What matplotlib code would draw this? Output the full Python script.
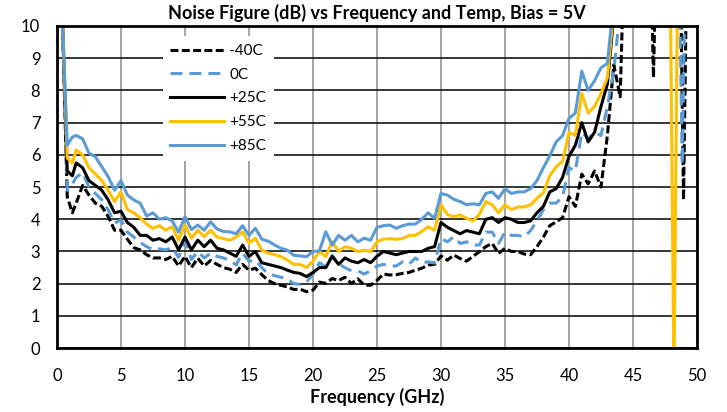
import numpy as np
import matplotlib
matplotlib.use("Agg")
import matplotlib.pyplot as plt

plt.rcParams['font.family'] = ['Lato', 'DejaVu Sans']

# sample frequencies (GHz)
freq = [0.4, 0.8, 1.2] + list(np.arange(1.5, 44.01, 0.5))

nf_m40 = [10.5, 4.7, 4.2, 4.5, 5.05, 4.75, 4.5, 4.4, 4.08, 3.66, 3.66, 3.38, 3.12, 3.05,
          2.9, 2.8, 2.8, 2.75, 2.85, 2.55, 2.85, 2.5, 2.79, 2.55, 2.72, 2.6, 2.5, 2.45,
          2.35, 2.6, 2.42, 2.48, 2.28, 2.1, 2.0, 1.95, 1.9, 1.82, 1.83, 1.75, 1.8, 2.05,
          2.01, 2.16, 2.1, 2.2, 2.01, 2.15, 1.96, 1.95, 2.1, 2.3, 2.27, 2.28, 2.32, 2.35,
          2.42, 2.48, 2.58, 2.6, 2.86, 2.73, 2.89, 2.78, 2.7, 2.85, 2.99, 3.15, 3.25, 2.94,
          3.1, 3.0, 3.0, 2.92, 2.9, 3.15, 3.45, 3.8, 3.92, 4.05, 4.7, 4.4, 5.4, 5.1, 5.5,
          5.0, 6.6, 8.8, 7.8]
nf_0 = [10.5, 4.9, 5.1, 5.3, 5.45, 5.0, 4.8, 4.6, 4.29, 3.88, 3.98, 3.6, 3.45, 3.28,
        3.15, 3.06, 3.08, 3.05, 3.12, 2.82, 3.3, 2.75, 3.0, 2.8, 2.95, 2.85, 2.8, 2.73,
        2.58, 2.95, 2.7, 2.73, 2.5, 2.3, 2.25, 2.2, 2.15, 2.0, 1.98, 2.05, 2.3, 2.65,
        2.52, 2.88, 2.62, 2.5, 2.4, 2.4, 2.3, 2.4, 2.55, 2.6, 2.55, 2.55, 2.68, 2.6,
        2.8, 2.65, 2.68, 2.64, 3.4, 3.3, 3.46, 3.25, 3.3, 3.2, 3.2, 3.6, 3.6, 3.25,
        3.6, 3.5, 3.5, 3.45, 3.65, 3.95, 4.3, 4.5, 4.5, 4.7, 5.6, 5.5, 6.7, 6.5, 6.7,
        6.6, 7.5, 8.6, 10.5]
nf_25 = [10.5, 5.5, 5.35, 5.75, 5.6, 5.2, 5.05, 4.9, 4.6, 4.2, 4.25, 3.9, 3.75, 3.5,
         3.5, 3.35, 3.4, 3.3, 3.45, 3.05, 3.45, 3.05, 3.35, 3.15, 3.35, 3.1, 3.05, 2.95,
         2.85, 3.2, 2.85, 3.0, 2.65, 2.6, 2.55, 2.5, 2.42, 2.35, 2.32, 2.22, 2.35, 2.5,
         2.5, 2.85, 2.6, 2.8, 2.7, 2.65, 2.75, 2.65, 2.85, 3.0, 2.95, 2.9, 2.95, 3.0,
         3.0, 3.0, 3.1, 3.15, 3.9, 3.75, 3.65, 3.55, 3.65, 3.6, 3.55, 4.0, 4.05, 3.9,
         4.05, 4.0, 3.9, 3.9, 3.95, 4.2, 4.4, 4.85, 4.95, 5.3, 5.95, 6.3, 7.0, 6.4, 6.7,
         7.5, 8.2, 10.3, 12.0]
nf_55 = [10.5, 5.9, 5.75, 6.15, 6.0, 5.6, 5.4, 5.2, 4.9, 4.55, 4.85, 4.3, 4.2, 4.05,
         3.85, 3.72, 3.8, 3.66, 3.77, 3.35, 3.82, 3.41, 3.66, 3.46, 3.66, 3.45, 3.4, 3.35,
         3.45, 3.61, 3.25, 3.41, 3.04, 2.95, 2.9, 2.84, 2.73, 2.6, 2.6, 2.5, 2.7, 3.0,
         2.84, 3.3, 3.0, 3.15, 3.1, 3.0, 3.04, 3.0, 3.3, 3.38, 3.4, 3.38, 3.4, 3.5,
         3.5, 3.62, 3.77, 3.66, 4.45, 4.15, 4.08, 4.13, 4.03, 3.95, 4.15, 4.55, 4.45, 4.2,
         4.45, 4.3, 4.38, 4.38, 4.45, 4.65, 4.82, 5.35, 5.63, 5.8, 6.7, 6.6, 7.9, 7.3, 7.5,
         7.9, 8.4, 10.5, 12.0]
nf_85 = [10.5, 6.3, 6.55, 6.6, 6.5, 6.05, 5.94, 5.63, 5.32, 4.9, 5.2, 4.75, 4.6, 4.5,
         4.1, 4.2, 4.0, 4.05, 3.95, 3.6, 4.08, 3.68, 3.82, 3.66, 3.92, 3.7, 3.62, 3.61,
         3.55, 3.8, 3.5, 3.72, 3.38, 3.32, 3.2, 3.1, 3.04, 2.88, 2.86, 2.84, 3.0, 3.02,
         3.61, 3.2, 3.5, 3.35, 3.5, 3.3, 3.41, 3.35, 3.75, 3.8, 3.82, 3.72, 3.8, 3.85,
         3.85, 4.0, 4.2, 4.03, 4.8, 4.75, 4.62, 4.55, 4.45, 4.48, 4.45, 4.8, 4.85, 4.65,
         4.95, 4.8, 4.85, 4.85, 4.95, 5.2, 5.6, 5.97, 6.4, 6.6, 7.13, 7.3, 8.6, 8.0, 8.3,
         8.7, 8.84, 10.8, 12.0]

# high-frequency tails (mostly off scale)
tail_m40_f = [44.3, 46.4, 46.6, 46.8, 48.7, 48.95, 49.2]
tail_m40_v = [12, 12, 8.4, 12, 12, 4.6, 12]
tail_0_f = [44.3, 48.6, 48.85, 49.1]
tail_0_v = [12, 12, 5.7, 12]
tail_55_f = [44.5, 47.9, 48.2, 48.5]
tail_55_v = [12, 12, -1, 12]

blue = '#5B9BD5'
gold = '#FFC000'
lw = 2.2

fig = plt.figure(figsize=(7.27, 4.12), dpi=100)
ax = fig.add_axes([0.0784, 0.155, 0.8803, 0.782])

ax.plot(freq + tail_m40_f, nf_m40 + tail_m40_v, color='black', lw=lw,
        dashes=(2.6, 1.1), label='-40C')
ax.plot(freq + tail_0_f, nf_0 + tail_0_v, color=blue, lw=lw,
        dashes=(3.9, 2.3), label='0C')
ax.plot(freq, nf_25, color='black', lw=lw, label='+25C')
ax.plot(freq + tail_55_f, nf_55 + tail_55_v, color=gold, lw=lw, label='+55C')
ax.plot(freq, nf_85, color=blue, lw=lw, label='+85C')

ax.set_xlim(0, 50)
ax.set_ylim(0, 10)
ax.set_xticks(range(0, 51, 5))
ax.set_yticks(range(0, 11, 1))
ax.tick_params(length=0, labelsize=12)
ax.tick_params(axis='x', pad=14)
ax.tick_params(axis='y', pad=12)
ax.grid(axis='y', color='black', lw=1.1)
ax.grid(axis='x', color='#8c8c8c', lw=1.1)
ax.set_axisbelow(True)
for s in ax.spines.values():
    s.set_linewidth(2)

ax.set_title('Noise Figure (dB) vs Frequency and Temp, Bias = 5V',
             fontsize=13, fontweight='bold', pad=5)
ax.set_xlabel('Frequency (GHz)', fontsize=13, fontweight='bold', labelpad=3)

leg = ax.legend(loc='upper left', bbox_to_anchor=(0.165, 0.968), frameon=True,
                fancybox=False, framealpha=1, edgecolor='none', facecolor='white',
                handlelength=3.5, fontsize=11, labelspacing=0.64,
                borderpad=0.5, handletextpad=0.35, borderaxespad=0)

fig.savefig('out.png', dpi=100)
